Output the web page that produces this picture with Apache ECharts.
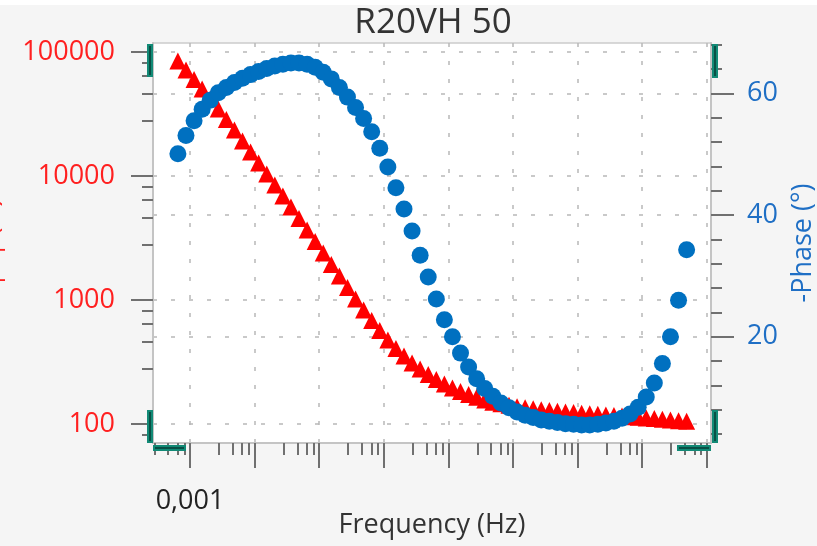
<!DOCTYPE html>
<html>
<head>
<meta charset="utf-8">
<script src="https://cdn.jsdelivr.net/npm/echarts@6/dist/echarts.min.js"></script>
<style>html,body{margin:0;padding:0;background:#f5f5f5;}#c{width:817px;height:546px;}</style>
</head>
<body>
<div id="c"></div>
<script>
// ---- data ----
const frequency = [
  0.0006494, 0.0008660, 0.001155, 0.001540, 0.002054, 0.002738, 0.003652, 0.004870,
  0.006494, 0.008660, 0.01155, 0.01540, 0.02054, 0.02738, 0.03652, 0.04870,
  0.06494, 0.08660, 0.1155, 0.1540, 0.2054, 0.2738, 0.3652, 0.4870,
  0.6494, 0.8660, 1.155, 1.540, 2.054, 2.738, 3.652, 4.870,
  6.494, 8.660, 11.55, 15.40, 20.54, 27.38, 36.52, 48.70,
  64.94, 86.60, 115.5, 154.0, 205.4, 273.8, 365.2, 487.0,
  649.4, 866.0, 1155, 1540, 2054, 2738, 3652, 4870,
  6494, 8660, 11550, 15400, 20540, 27380, 36520, 48700
];
const impedance = [
  84600, 71600, 60000, 50300, 41800, 34700, 28550, 23500,
  19160, 15610, 12730, 10370, 8460, 6900, 5620, 4540,
  3670, 2960, 2390, 1930, 1560, 1260, 1020, 830,
  683, 568, 476, 406, 353, 310, 278, 251,
  229, 210, 195, 183, 173, 164, 156, 150,
  146, 141.5, 138, 135, 132.6, 130.4, 128.5, 126.9,
  125.2, 123.8, 122.4, 121.1, 119.7, 118.4, 117.1, 115.8,
  114.5, 113.2, 112.0, 110.8, 109.3, 107.9, 106.5, 105.1
];
const phase = [
  50.1, 53.1, 55.5, 57.4, 58.9, 60.1, 61.0, 61.8,
  62.5, 63.1, 63.6, 64.1, 64.5, 64.8, 65.0, 65.0,
  64.8, 64.3, 63.5, 62.4, 61.0, 59.4, 57.7, 55.9,
  53.7, 51.0, 47.9, 44.5, 41.0, 37.4, 33.4, 29.8,
  26.2, 22.8, 20.0, 17.3, 15.0, 13.1, 11.5, 10.2,
  9.1, 8.3, 7.6, 7.1, 6.7, 6.3, 6.1, 5.9,
  5.7, 5.6, 5.5, 5.5, 5.6, 5.8, 6.1, 6.6,
  7.3, 8.4, 10.1, 12.4, 15.6, 20.0, 26.0, 34.3
];
const xTickValues = [0.001, 0.01, 0.1, 1, 10, 100, 1000, 10000, 100000];
const xLabelValues = [0.001];
const zTickValues = [100, 1000, 10000, 100000];
const phaseTickValues = [20, 40, 60];

const titleText = 'R20VH 50';
const xName = 'Frequency (Hz)';
const zName = '|Z| (Ω)';
const phaseName = '-Phase (°)';

// ---- layout / style ----
const FONT = '"Open Sans", "Noto Sans", sans-serif';
const PL = 153, PT = 43, PR = 711, PB = 443, W = 817, H = 546;
const RED = '#ff0000', BLUE = '#0070c0';
const TICK = '#707070';
const TEAL = '#128a76', TEAL_D = '#0a4f45';

function handle(x, y, w, h, vertical) {
  return [
    { type: 'rect', shape: { x: x, y: y, width: w, height: h }, style: { fill: TEAL }, z: 100 },
    { type: 'rect', shape: vertical ? { x: x + w / 2 - 1, y: y + 2, width: 2, height: h - 4 }
                                    : { x: x + 2, y: y + h / 2 - 1, width: w - 4, height: 2 },
      style: { fill: TEAL_D }, z: 101 }
  ];
}

const chart = echarts.init(document.getElementById('c'), null, { renderer: 'canvas' });
const gridLine = { show: true, lineStyle: { color: '#b8b8b8', width: 1.5, type: [4, 14] } };

chart.setOption({
  backgroundColor: '#f5f5f5',
  animation: false,
  title: {
    text: titleText, left: 428, top: 1, textAlign: 'center',
    textStyle: { fontFamily: FONT, fontSize: 35, fontWeight: 'normal', color: '#333333' }
  },
  grid: {
    left: PL, top: PT, right: W - PR, bottom: H - PB,
    containLabel: false, outerBoundsMode: 'none',
    show: true, backgroundColor: '#ffffff', borderColor: '#cccccc', borderWidth: 1.5
  },
  xAxis: {
    type: 'log', logBase: 10, min: 2.673e-4, max: 1.1614e5,
    name: xName, nameLocation: 'middle', nameGap: 69, nameMoveOverlap: false,
    nameTextStyle: { fontFamily: FONT, fontSize: 27, color: '#333333' },
    axisLine: { show: true, lineStyle: { color: '#c4c4c4', width: 2 } },
    axisTick: { show: true, length: 25, customValues: xTickValues, lineStyle: { color: TICK, width: 2 } },
    minorTick: { show: true, splitNumber: 5, length: 12, lineStyle: { color: TICK, width: 2 } },
    axisLabel: {
      customValues: xLabelValues, margin: 45,
      formatter: v => String(v).replace('.', ','),
      fontFamily: FONT, fontSize: 27, color: '#222222'
    },
    splitLine: gridLine
  },
  yAxis: [
    {
      type: 'log', logBase: 10, min: 70.3, max: 118000, position: 'left',
      name: zName, nameLocation: 'middle', nameGap: 149, nameRotate: 90, nameMoveOverlap: false,
      nameTextStyle: { fontFamily: FONT, fontSize: 27, color: '#ff2020' },
      axisLine: { show: true, lineStyle: { color: '#c4c4c4', width: 2 } },
      axisTick: { show: true, length: 22, customValues: zTickValues, lineStyle: { color: TICK, width: 2 } },
      minorTick: { show: true, splitNumber: 5, length: 11, lineStyle: { color: TICK, width: 2 } },
      axisLabel: {
        customValues: zTickValues, margin: 38,
        formatter: v => String(Math.round(v)),
        fontFamily: FONT, fontSize: 27, color: '#ff2020'
      },
      splitLine: gridLine
    },
    {
      type: 'value', min: 2.52, max: 68.3, splitNumber: 3, position: 'right',
      name: phaseName, nameLocation: 'middle', nameGap: 79, nameRotate: 90, nameMoveOverlap: false,
      nameTextStyle: { fontFamily: FONT, fontSize: 27, color: '#1f6fc5' },
      axisLine: { show: true, lineStyle: { color: '#c4c4c4', width: 2 } },
      axisTick: { show: true, length: 23, customValues: phaseTickValues, lineStyle: { color: TICK, width: 2 } },
      minorTick: { show: true, splitNumber: 5, length: 11, lineStyle: { color: TICK, width: 2 } },
      axisLabel: {
        customValues: phaseTickValues, margin: 36,
        fontFamily: FONT, fontSize: 27, color: '#1f6fc5'
      },
      splitLine: gridLine
    }
  ],
  series: [
    {
      name: '|Z|', type: 'scatter', xAxisIndex: 0, yAxisIndex: 0,
      symbol: 'triangle', symbolSize: 17, itemStyle: { color: RED, opacity: 1 },
      data: frequency.map((f, i) => [f, impedance[i]]), z: 3
    },
    {
      name: '-Phase', type: 'scatter', xAxisIndex: 0, yAxisIndex: 1,
      symbol: 'circle', symbolSize: 17, itemStyle: { color: BLUE, opacity: 1 },
      data: frequency.map((f, i) => [f, phase[i]]), z: 4
    }
  ],
  graphic: [
    { type: 'rect', shape: { x: 0, y: 0, width: W, height: 5 }, style: { fill: '#ffffff' }, z: 90 },
    ...handle(PL - 6, PT + 1, 6, 33, true),
    ...handle(PL - 6, PB - 33, 6, 33, true),
    ...handle(PR + 1, PT + 1, 6, 34, true),
    ...handle(PR + 1, PB - 33, 6, 33, true),
    ...handle(PL, PB + 2, 33, 6, false),
    ...handle(PR - 34, PB + 2, 34, 6, false)
  ]
});
</script>
</body>
</html>
